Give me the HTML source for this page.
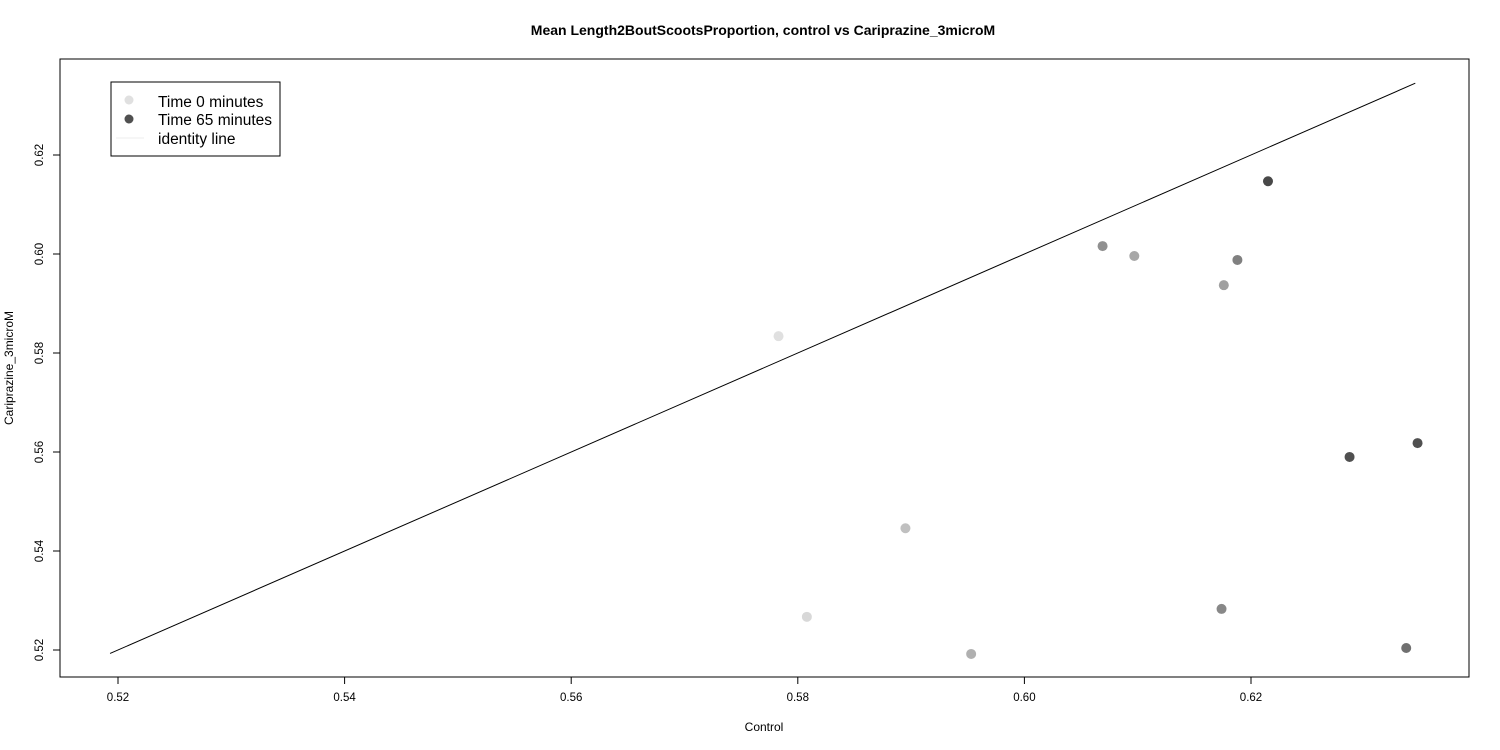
<!DOCTYPE html>
<html><head><meta charset="utf-8"><style>
html,body{margin:0;padding:0;background:#fff;}
svg{display:block;font-family:"Liberation Sans",sans-serif;}
</style></head><body>
<svg id="chart" width="1500" height="750" viewBox="0 0 1500 750">
<text x="763" y="35" text-anchor="middle" font-size="14" font-weight="bold">Mean Length2BoutScootsProportion, control vs Cariprazine_3microM</text>
<rect x="60" y="59" width="1409" height="618" fill="none" stroke="#000" stroke-width="1"/>
<text x="764" y="731" text-anchor="middle" font-size="12">Control</text>
<text x="13" y="368" text-anchor="middle" font-size="12" transform="rotate(-90 13 368)">Cariprazine_3microM</text>
<g id="xaxis"></g>
<g id="yaxis"></g>
<g id="marks"></g>
<g>
<rect x="111" y="82" width="169" height="74" fill="#fff" stroke="#000" stroke-width="1"/>
<circle cx="129" cy="100" r="4.5" fill="#e0e0e0"/>
<text x="158" y="107" font-size="15.5">Time 0 minutes</text>
<circle cx="129" cy="119" r="4.5" fill="#505050"/>
<text x="158" y="125" font-size="15.5">Time 65 minutes</text>
<line x1="116" y1="138" x2="144" y2="138" stroke="#eee" stroke-width="1"/>
<text x="158" y="144" font-size="15.5">identity line</text>
</g>
</svg>
<script>
const xTicks = [0.52, 0.54, 0.56, 0.58, 0.60, 0.62];
const yTicks = [0.52, 0.54, 0.56, 0.58, 0.60, 0.62];
const xTickLabels = ["0.52", "0.54", "0.56", "0.58", "0.60", "0.62"];
const yTickLabels = ["0.52", "0.54", "0.56", "0.58", "0.60", "0.62"];
const controlValues = [0.5783, 0.5808, 0.5895, 0.5953, 0.6069, 0.6097, 0.6176, 0.6188, 0.6215, 0.6174, 0.6287, 0.6347, 0.6337];
const treatedValues = [0.5834, 0.5267, 0.5446, 0.5192, 0.6016, 0.5996, 0.5937, 0.5988, 0.6147, 0.5283, 0.5590, 0.5618, 0.5204];
const pointColors = ["#e0e0e0", "#d8d8d8", "#c0c0c0", "#b0b0b0", "#909090", "#a8a8a8", "#a0a0a0", "#808080", "#484848", "#888888", "#505050", "#505050", "#707070"];
const identityRange = [0.5193, 0.6345];

const NS = "http://www.w3.org/2000/svg";
function xs(v){ return 118 + (v - 0.52) * 11330; }
function ys(v){ return 650 - (v - 0.52) * 4950; }
function mk(tag, attrs, parent){
  const e = document.createElementNS(NS, tag);
  for (const k in attrs) e.setAttribute(k, attrs[k]);
  parent.appendChild(e);
  return e;
}
const xg = document.getElementById('xaxis');
const yg = document.getElementById('yaxis');
const mg = document.getElementById('marks');

let l = mk('line', {x1: xs(xTicks[0]), x2: xs(xTicks[xTicks.length-1]), y1: 677, y2: 677, stroke: '#000'}, xg);


xTicks.forEach((t, i) => {
  const tk = mk('line', {x1: xs(t), x2: xs(t), y1: 677, y2: 684, stroke: '#000'}, xg);
  
  
  const tx = mk('text', {x: xs(t), y: 701, 'text-anchor': 'middle', 'font-size': 11.5}, xg);
  tx.textContent = xTickLabels[i];
  
  
});
l = mk('line', {y1: ys(yTicks[0]), y2: ys(yTicks[yTicks.length-1]), x1: 60, x2: 60, stroke: '#000'}, yg);


yTicks.forEach((t, i) => {
  const tk = mk('line', {y1: ys(t), y2: ys(t), x1: 53, x2: 60, stroke: '#000'}, yg);
  
  
  const tx = mk('text', {x: 43, y: ys(t), 'text-anchor': 'middle', 'font-size': 11.5, transform: 'rotate(-90 43 ' + ys(t) + ')'}, yg);
  tx.textContent = yTickLabels[i];
  
  
});
const idl = mk('line', {x1: xs(identityRange[0]), y1: ys(identityRange[0]), x2: xs(identityRange[1]), y2: ys(identityRange[1]), stroke: '#000', 'stroke-width': 1}, mg);


controlValues.forEach((v, i) => {
  const c = mk('circle', {cx: xs(v), cy: ys(treatedValues[i]), r: 5, fill: pointColors[i]}, mg);
  
  
});
</script>
</body></html>
